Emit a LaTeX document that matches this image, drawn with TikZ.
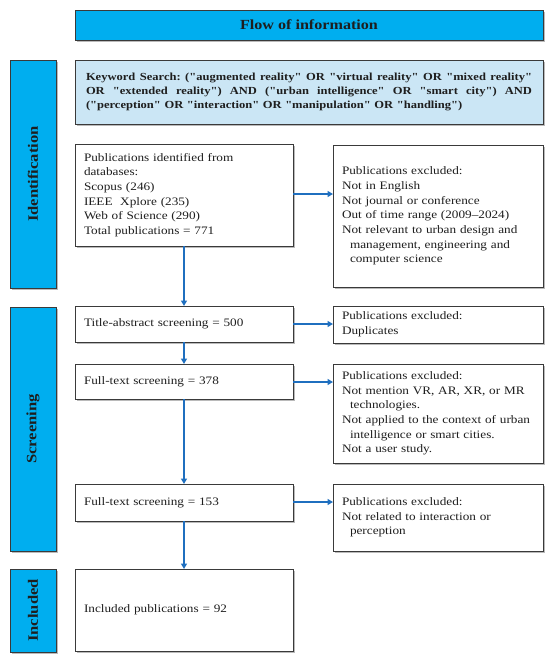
\documentclass[tikz,border=0pt]{standalone}
\usepackage{fontspec}
\setmainfont{Liberation Serif}[Ligatures=TeXOff, FakeStretch=1.16]
\usetikzlibrary{arrows.meta,shadows}
\definecolor{hdrblue}{HTML}{00AEEF}
\definecolor{kwblue}{HTML}{CBE6F5}
\definecolor{arrblue}{HTML}{1F6FBF}
\definecolor{edge}{HTML}{3A3A3A}
\definecolor{ink}{HTML}{1E1E1E}
\tikzset{
  shadowed/.style={drop shadow={shadow xshift=1.6pt, shadow yshift=-1.6pt, fill=black!45, opacity=0.6}},
  box/.style={draw=edge, line width=0.8pt, fill=white, shadowed, rectangle, anchor=north west,
    inner xsep=9pt, inner ysep=0pt, outer sep=0pt, align=left, text=ink,
    font=\fontsize{11.4}{14.7}\selectfont},
  sidebar/.style={draw=edge, line width=0.8pt, fill=hdrblue, shadowed, rectangle, anchor=north west,
    inner sep=0pt, outer sep=0pt, minimum width=46pt},
  sidelbl/.style={rotate=90, text=ink, font=\fontsize{14.3}{16}\selectfont\bfseries, inner sep=0pt},
  flow/.style={draw=arrblue, line width=1.8pt, -{Triangle[length=5.5pt,width=6pt]}}
}
\newcommand{\kwline}[1]{\leavevmode\hbox to 446pt{\spaceskip=0.25em plus 1fil\relax\xspaceskip=\spaceskip #1}}
\begin{document}
\begin{tikzpicture}[x=1pt,y=-1pt]
\useasboundingbox (0,0) rectangle (550,657);
% header
\node[sidebar, minimum width=468pt, minimum height=30pt, font=\fontsize{13.9}{15}\selectfont\bfseries, text=ink] (hdr) at (75,10) {Flow of information};
% keyword box
\node[box, fill=kwblue, minimum height=64pt, text width=446pt, inner xsep=11pt,
  font=\fontsize{10.8}{13.6}\selectfont\bfseries] (kw) at (75,60)
  {\kwline{Keyword Search: ("augmented reality" OR "virtual reality" OR "mixed reality"}\\
   \kwline{OR "extended reality") AND ("urban intelligence" OR "smart city") AND}\\
   ("perception" OR "interaction" OR "manipulation" OR "handling")};
% sidebars
\node[sidebar, minimum height=228pt] (side1) at (10,60) {};
\node[sidelbl] (side1l) at (side1.center) {Identification};
\node[sidebar, minimum height=244pt] (side2) at (10,307) {};
\node[sidelbl] (side2l) at (side2.center) {Screening};
\node[sidebar, minimum height=83pt] (side3) at (10,569) {};
\node[sidelbl] (side3l) at (side3.center) {Included};
% main column
\node[box, text width=200pt, minimum height=102pt] (pub) at (75,144)
  {Publications identified from\\ databases:\\ Scopus (246)\\ IEEE~~Xplore (235)\\ Web of Science (290)\\ Total publications = 771};
\node[box, text width=200pt, minimum height=36pt] (tas) at (75,306)
  {Title-abstract screening = 500};
\node[box, text width=200pt, minimum height=35pt] (ft1) at (75,364)
  {Full-text screening = 378};
\node[box, text width=200pt, minimum height=37pt] (ft2) at (75,484)
  {Full-text screening = 153};
\node[box, text width=200pt, minimum height=82pt] (inc) at (75,569)
  {Included publications = 92};
% exclusion column
\node[box, text width=192pt, minimum height=142pt] (ex1) at (333,145)
  {Publications excluded:\\ Not in English\\ Not journal or conference\\ Out of time range (2009–2024)\\ Not relevant to urban design and\\ \hspace*{8pt}management, engineering and\\ \hspace*{8pt}computer science};
\node[box, text width=192pt, minimum height=37pt] (ex2) at (333,306)
  {Publications excluded:\\ Duplicates};
\node[box, text width=192pt, minimum height=99pt] (ex3) at (333,364)
  {Publications excluded:\\ Not mention VR, AR, XR, or MR\\ \hspace*{8pt}technologies.\\ Not applied to the context of urban\\ \hspace*{8pt}intelligence or smart cities.\\ Not a user study.};
\node[box, text width=192pt, minimum height=67pt] (ex4) at (333,484)
  {Publications excluded:\\ Not related to interaction or\\ \hspace*{8pt}perception};
% connectors
\draw[flow] (pub.south) -- (tas.north);
\draw[flow] (tas.south) -- (ft1.north);
\draw[flow] (ft1.south) -- (ft2.north);
\draw[flow] (ft2.south) -- (inc.north);
\draw[flow] ([yshift=1pt]pub.east) -- ([yshift=1pt]pub.east -| ex1.west);
\draw[flow] (tas.east) -- (tas.east -| ex2.west);
\draw[flow] ([yshift=-0.5pt]ft1.east) -- ([yshift=-0.5pt]ft1.east -| ex3.west);
\draw[flow] ([yshift=0.5pt]ft2.east) -- ([yshift=0.5pt]ft2.east -| ex4.west);
\end{tikzpicture}
\end{document}
